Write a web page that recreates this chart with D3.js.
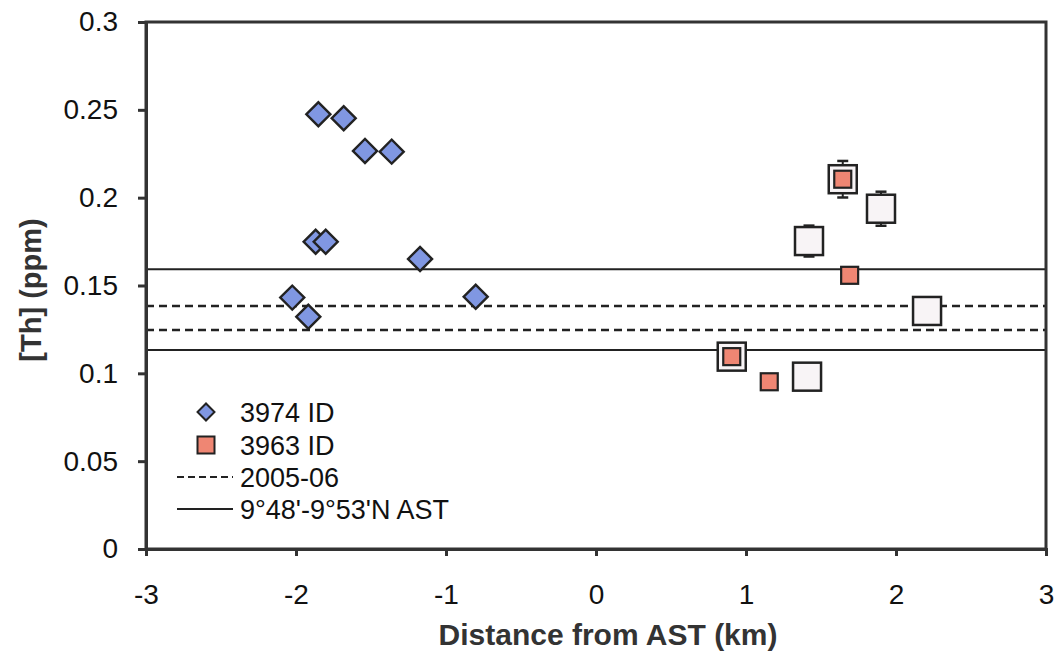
<!DOCTYPE html>
<html>
<head>
<meta charset="utf-8">
<script src="https://cdn.jsdelivr.net/npm/d3@7"></script>
<style>
  html, body { margin: 0; padding: 0; background: #ffffff; }
  svg { display: block; font-family: "Liberation Sans", Arial, Helvetica, sans-serif; }
</style>
</head>
<body>
<svg id="chart" width="1060" height="661"></svg>
<script>
// Distance from the axial summit trough (km) and Th concentration (ppm)
const dist3974 = [-1.851, -1.682, -1.540, -1.362, -1.869, -1.802, -1.173, -2.025, -1.918, -0.802];
const th3974   = [0.2475, 0.2452, 0.2266, 0.2262, 0.1749, 0.1749, 0.1651, 0.1431, 0.1322, 0.1436];

const dist3963 = [0.905, 1.155, 1.645, 1.691];
const th3963   = [0.1095, 0.0952, 0.2105, 0.1558];

// Larger open squares with their 2-sigma uncertainties
const distOpen = [0.905, 1.407, 1.420, 1.645, 1.900, 2.207];
const thOpen   = [0.1095, 0.0981, 0.1753, 0.2105, 0.1937, 0.1355];
const errOpen  = [0.004, 0.004, 0.0088, 0.0104, 0.0097, 0.004];

// Reference ranges: 2005-06 (dashed) and 9°48'-9°53'N AST (solid)
const range2005 = [0.1383, 0.1247];
const rangeAST  = [0.1592, 0.1133];

const xTicks = [-3, -2, -1, 0, 1, 2, 3];
const yTicks = [0, 0.05, 0.1, 0.15, 0.2, 0.25, 0.3];

const legendLabels = ["3974 ID", "3963 ID", "2005-06", "9\u00b048'-9\u00b053'N AST"];

const colBlue = "#8097e2";
const colSalmon = "#ef8673";
const colOpen = "#f8f4f6";
const colInk = "#222222";

const svg = d3.select("#chart");
const plotL = 146, plotR = 1046, plotT = 22, plotB = 549;

const x = d3.scaleLinear().domain([-3, 3]).range([plotL, plotR]);
const y = d3.scaleLinear().domain([0, 0.3]).range([plotB, plotT]);

// Reference lines
const refLines = [
  ...range2005.map(v => ({ v, dash: true })),
  ...rangeAST.map(v => ({ v, dash: false }))
];
svg.append("g").selectAll("line").data(refLines).join("line")
  .attr("x1", x(-3)).attr("x2", x(3))
  .attr("y1", d => y(d.v)).attr("y2", d => y(d.v))
  .attr("stroke", colInk)
  .attr("stroke-width", d => d.dash ? 2.6 : 2)
  .attr("stroke-dasharray", d => d.dash ? "8,5" : null);

// Open squares with error bars
const openData = distOpen.map((d, i) => ({ x: d, y: thOpen[i], e: errOpen[i] }));
const gOpen = svg.append("g");
const capW = 11;
gOpen.selectAll("line.err").data(openData).join("line").attr("class", "err")
  .attr("x1", d => x(d.x)).attr("x2", d => x(d.x))
  .attr("y1", d => y(d.y + d.e)).attr("y2", d => y(d.y - d.e))
  .attr("stroke", colInk).attr("stroke-width", 2);
gOpen.selectAll("line.capT").data(openData).join("line").attr("class", "capT")
  .attr("x1", d => x(d.x) - capW / 2).attr("x2", d => x(d.x) + capW / 2)
  .attr("y1", d => y(d.y + d.e)).attr("y2", d => y(d.y + d.e))
  .attr("stroke", colInk).attr("stroke-width", 2.5);
gOpen.selectAll("line.capB").data(openData).join("line").attr("class", "capB")
  .attr("x1", d => x(d.x) - capW / 2).attr("x2", d => x(d.x) + capW / 2)
  .attr("y1", d => y(d.y - d.e)).attr("y2", d => y(d.y - d.e))
  .attr("stroke", colInk).attr("stroke-width", 2.5);
const openSize = 28;
gOpen.selectAll("rect").data(openData).join("rect")
  .attr("x", d => x(d.x) - openSize / 2).attr("y", d => y(d.y) - openSize / 2)
  .attr("width", openSize).attr("height", openSize)
  .attr("fill", colOpen).attr("stroke", colInk).attr("stroke-width", 2.5);

// 3963 ID squares
const sqSize = 17;
svg.append("g").selectAll("rect").data(dist3963.map((d, i) => ({ x: d, y: th3963[i] }))).join("rect")
  .attr("x", d => x(d.x) - sqSize / 2).attr("y", d => y(d.y) - sqSize / 2)
  .attr("width", sqSize).attr("height", sqSize)
  .attr("fill", colSalmon).attr("stroke", colInk).attr("stroke-width", 2.2);

// 3974 ID diamonds
const diamond = d3.symbol().type(d3.symbolSquare).size(17 * 17);
svg.append("g").selectAll("path").data(dist3974.map((d, i) => ({ x: d, y: th3974[i] }))).join("path")
  .attr("d", diamond)
  .attr("transform", d => `translate(${x(d.x)},${y(d.y)}) rotate(45)`)
  .attr("fill", colBlue).attr("stroke", colInk).attr("stroke-width", 2.4);

// Plot frame
svg.append("rect")
  .attr("x", plotL).attr("y", plotT)
  .attr("width", plotR - plotL).attr("height", plotB - plotT)
  .attr("fill", "none").attr("stroke", "#333").attr("stroke-width", 3);

// Axes
const xAxis = d3.axisBottom(x).tickValues(xTicks).tickSize(7).tickPadding(28)
  .tickFormat(d3.format("d"));
const gx = svg.append("g").attr("transform", `translate(0,${plotB})`).call(xAxis);
gx.select(".domain").attr("stroke", "#333").attr("stroke-width", 3);
gx.selectAll(".tick line").attr("stroke", "#333").attr("stroke-width", 3);
gx.selectAll(".tick text").attr("font-size", 28).attr("fill", "#111")
  .attr("font-family", "'Liberation Sans', Arial, sans-serif")
  .text(d => d < 0 ? "-" + Math.abs(d) : String(d));

const yAxis = d3.axisLeft(y).tickValues(yTicks).tickSize(8).tickPadding(20)
  .tickFormat(d => d === 0 ? "0" : String(+d.toFixed(2)));
const gy = svg.append("g").attr("transform", `translate(${plotL},0)`).call(yAxis);
gy.select(".domain").attr("stroke", "#333").attr("stroke-width", 3);
gy.selectAll(".tick line").attr("stroke", "#333").attr("stroke-width", 3);
gy.selectAll(".tick text").attr("font-size", 28).attr("fill", "#111")
  .attr("font-family", "'Liberation Sans', Arial, sans-serif");

// Axis titles
svg.append("text")
  .attr("x", (plotL + plotR) / 2 + 12).attr("y", 645)
  .attr("text-anchor", "middle")
  .attr("font-size", 30).attr("font-weight", "bold").attr("fill", "#333")
  .text("Distance from AST (km)");
svg.append("text")
  .attr("transform", `translate(41,290) rotate(-90)`)
  .attr("text-anchor", "middle")
  .attr("font-size", 29).attr("font-weight", "bold").attr("fill", "#333")
  .text("[Th] (ppm)");

// Legend
const lg = svg.append("g");
const rowY = [412, 445, 477, 509];
const textX = 240;
lg.append("path").attr("d", d3.symbol().type(d3.symbolSquare).size(12 * 12))
  .attr("transform", `translate(206,${rowY[0]}) rotate(45)`)
  .attr("fill", colBlue).attr("stroke", colInk).attr("stroke-width", 2);
lg.append("rect").attr("x", 206 - 8.5).attr("y", rowY[1] - 8.5)
  .attr("width", 17).attr("height", 17)
  .attr("fill", colSalmon).attr("stroke", colInk).attr("stroke-width", 2);
lg.append("line").attr("x1", 177).attr("x2", 233).attr("y1", rowY[2]).attr("y2", rowY[2])
  .attr("stroke", colInk).attr("stroke-width", 2).attr("stroke-dasharray", "7,4");
lg.append("line").attr("x1", 177).attr("x2", 233).attr("y1", rowY[3]).attr("y2", rowY[3])
  .attr("stroke", colInk).attr("stroke-width", 2);
lg.selectAll("text").data(legendLabels).join("text")
  .attr("x", textX).attr("y", (d, i) => rowY[i] + 10)
  .attr("font-size", 27).attr("fill", "#111")
  .text(d => d);
</script>
</body>
</html>
